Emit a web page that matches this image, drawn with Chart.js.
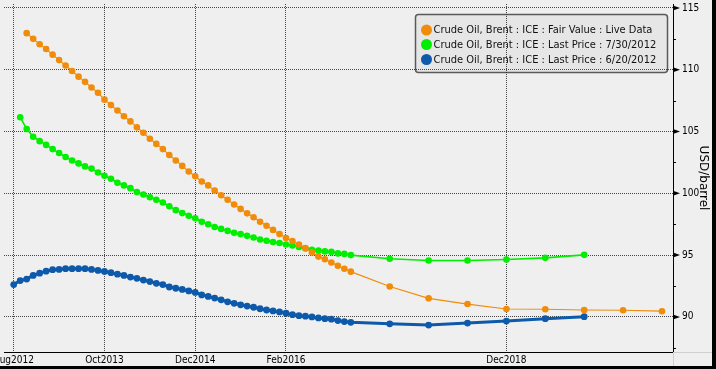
<!DOCTYPE html>
<html>
<head>
<meta charset="utf-8">
<script src="https://cdn.jsdelivr.net/npm/chart.js@4/dist/chart.umd.min.js"></script>
<style>
  html, body { margin: 0; padding: 0; background: #000; overflow: hidden; }
  #wrap { position: absolute; left: 0; top: 0; width: 712px; height: 366px; }
  canvas { display: block; background: #EFEFEF; }
</style>
</head>
<body>
<div id="wrap"><canvas id="myChart" width="712" height="366"></canvas></div>
<script>
// months counted from Aug 2012 (0 = Aug2012)
const monthIdx = [0, 1, 2, 3, 4, 5, 6, 7, 8, 9, 10, 11, 12, 13, 14, 15, 16, 17, 18, 19,
    20, 21, 22, 23, 24, 25, 26, 27, 28, 29, 30, 31, 32, 33, 34, 35, 36, 37, 38, 39,
    40, 41, 42, 43, 44, 45, 46, 47, 48, 49, 50, 51, 52, 58, 64, 70, 76, 82, 88, 94, 100];

const fairValue = [null, null, 112.96, 112.50, 112.06, 111.68, 111.22, 110.78, 110.34, 109.90,
    109.44, 109.02, 108.56, 108.14, 107.58, 107.14, 106.70, 106.24, 105.82, 105.34,
    104.90, 104.42, 104.00, 103.58, 103.10, 102.66, 102.22, 101.76, 101.38, 100.96,
    100.64, 100.22, 99.84, 99.48, 99.10, 98.74, 98.38, 98.06, 97.70, 97.38,
    97.04, 96.70, 96.38, 96.14, 95.86, 95.58, 95.22, 94.88, 94.66, 94.40,
    94.14, 93.90, 93.66, 92.46, 91.50, 91.04, 90.64, 90.62, 90.56, 90.54, 90.46];

const lastPrice0730 = [null, 106.16, 105.20, 104.58, 104.22, 103.92, 103.58, 103.26, 102.94, 102.66,
    102.42, 102.18, 102.00, 101.68, 101.42, 101.18, 100.86, 100.64, 100.42, 100.10,
    99.90, 99.68, 99.48, 99.26, 98.96, 98.64, 98.40, 98.18, 97.98, 97.70,
    97.50, 97.28, 97.12, 96.96, 96.80, 96.70, 96.56, 96.42, 96.26, 96.16,
    96.06, 95.98, 95.86, 95.78, 95.66, 95.54, 95.44, 95.36, 95.30, 95.26,
    95.14, 95.10, 95.00, 94.70, 94.56, 94.56, 94.64, 94.78, 95.02, null, null];

const lastPrice0620 = [92.62, 92.94, 93.06, 93.36, 93.54, 93.70, 93.82, 93.84, 93.90, 93.90,
    93.90, 93.90, 93.84, 93.76, 93.68, 93.58, 93.46, 93.36, 93.22, 93.12,
    92.98, 92.86, 92.72, 92.62, 92.42, 92.32, 92.22, 92.10, 91.98, 91.78,
    91.66, 91.52, 91.38, 91.22, 91.10, 90.98, 90.88, 90.78, 90.66, 90.56,
    90.48, 90.40, 90.30, 90.18, 90.10, 90.06, 90.00, 89.92, 89.86, 89.82,
    89.70, 89.62, 89.56, 89.44, 89.34, 89.50, 89.66, 89.86, 90.02, null, null];

const seriesLabels = [
    'Crude Oil, Brent : ICE : Fair Value : Live Data',
    'Crude Oil, Brent : ICE : Last Price : 7/30/2012',
    'Crude Oil, Brent : ICE : Last Price : 6/20/2012'
];
const seriesColors = ['#F08C0A', '#00EE00', '#0D5AAA'];

const xTickMonths = [0, 14, 28, 42, 76];
const xTickLabels = ['Aug2012', 'Oct2013', 'Dec2014', 'Feb2016', 'Dec2018'];
const yMajorTicks = [90, 95, 100, 105, 110, 115];
const yMinorTicks = [87.5, 92.5, 97.5, 102.5, 107.5, 112.5];
const yTitle = 'USD/barrel';

const narrowFont = "'DejaVu Sans Condensed', 'Liberation Sans Narrow', sans-serif";

function toPoints(values) {
    let pts = [];
    for (let i = 0; i < monthIdx.length; i++) {
        if (values[i] !== null) pts.push({ x: monthIdx[i], y: values[i] });
    }
    return pts;
}

// legend box + extra axis bits
const decorPlugin = {
    id: 'decor',
    beforeDraw(chart) {
        const c = chart.ctx;
        // legend box
        c.save();
        const bx = 415.5, by = 14.5, bw = 252, bh = 58;
        c.beginPath();
        c.roundRect(bx, by, bw, bh, 3);
        c.fillStyle = '#E6E6E6';
        c.fill();
        c.lineWidth = 1.5;
        c.strokeStyle = '#5A5A5A';
        c.stroke();
        c.font = '11px ' + narrowFont;
        c.textBaseline = 'middle';
        c.textAlign = 'left';
        const rows = [30, 44.5, 59.5];
        chart.data.datasets.forEach((ds, i) => {
            c.beginPath();
            c.arc(426.5, rows[i], 5.5, 0, Math.PI * 2);
            c.fillStyle = ds.borderColor;
            c.fill();
            c.fillStyle = '#111';
            c.fillText(ds.label, 433.5, rows[i] + 0.5);
        });
        c.restore();
    },
    afterDraw(chart) {
        const c = chart.ctx;
        const a = chart.chartArea;
        const ys = chart.scales.y;
        c.save();
        // light continuation of the axes
        c.strokeStyle = '#CFCFCF';
        c.lineWidth = 1;
        c.beginPath();
        c.moveTo(a.right, a.bottom + 0.5);
        c.lineTo(chart.width, a.bottom + 0.5);
        c.moveTo(a.right + 0.5, a.bottom);
        c.lineTo(a.right + 0.5, chart.height);
        c.stroke();
        // arrow ticks on the value axis
        c.fillStyle = '#000';
        yMajorTicks.forEach(v => {
            const y = ys.getPixelForValue(v);
            c.beginPath();
            c.moveTo(a.right, y - 2.5);
            c.lineTo(a.right + 7, y);
            c.lineTo(a.right, y + 2.5);
            c.closePath();
            c.fill();
        });
        c.strokeStyle = '#000';
        yMinorTicks.forEach(v => {
            const y = Math.round(ys.getPixelForValue(v)) + 0.5;
            c.beginPath();
            c.moveTo(a.right, y);
            c.lineTo(a.right + 3, y);
            c.stroke();
        });
        c.restore();
    }
};

const ctx = document.getElementById('myChart');

new Chart(ctx, {
    type: 'line',
    data: {
        datasets: [{
            label: seriesLabels[0],
            data: toPoints(fairValue),
            borderColor: seriesColors[0],
            backgroundColor: seriesColors[0],
            borderWidth: 1.2,
            pointRadius: 3.3,
            pointBorderWidth: 0,
            tension: 0
        }, {
            label: seriesLabels[1],
            data: toPoints(lastPrice0730),
            borderColor: seriesColors[1],
            backgroundColor: seriesColors[1],
            borderWidth: 1.6,
            pointRadius: 3.3,
            pointBorderWidth: 0,
            tension: 0
        }, {
            label: seriesLabels[2],
            data: toPoints(lastPrice0620),
            borderColor: seriesColors[2],
            backgroundColor: seriesColors[2],
            borderWidth: 3,
            pointRadius: 3.4,
            pointBorderWidth: 0,
            tension: 0
        }]
    },
    options: {
        responsive: false,
        animation: false,
        layout: { padding: 0 },
        plugins: {
            legend: { display: false },
            tooltip: { enabled: false }
        },
        scales: {
            x: {
                type: 'linear',
                position: 'bottom',
                min: -1.5,
                max: 101.7,
                afterBuildTicks: s => { s.ticks = xTickMonths.map(v => ({ value: v })); },
                afterFit: s => { s.paddingLeft = 0; s.paddingRight = 0; s.height = 14; },
                ticks: {
                    autoSkip: false,
                    maxRotation: 0,
                    padding: 2,
                    color: '#000',
                    font: { family: narrowFont, size: 10 },
                    callback: (v, i) => xTickLabels[i]
                },
                grid: { color: 'rgba(40,40,40,0.85)', lineWidth: 1, drawTicks: false },
                border: { display: true, color: '#000', width: 1, dash: [1, 1] }
            },
            y: {
                position: 'right',
                min: 87.16,
                max: 115.32,
                afterBuildTicks: s => { s.ticks = yMajorTicks.map(v => ({ value: v })); },
                afterFit: s => { s.width = 39; s.paddingTop = 0; s.paddingBottom = 0; },
                ticks: {
                    padding: 9,
                    color: '#000',
                    font: { family: narrowFont, size: 10 }
                },
                grid: { color: 'rgba(40,40,40,0.85)', lineWidth: 1, drawTicks: false },
                border: { display: true, color: '#000', width: 1, dash: [1, 1] },
                title: {
                    display: true,
                    text: yTitle,
                    color: '#000',
                    font: { family: "'DejaVu Sans', sans-serif", size: 12 },
                    padding: { top: 2, bottom: 0 }
                }
            }
        }
    },
    plugins: [decorPlugin]
});
</script>
</body>
</html>
